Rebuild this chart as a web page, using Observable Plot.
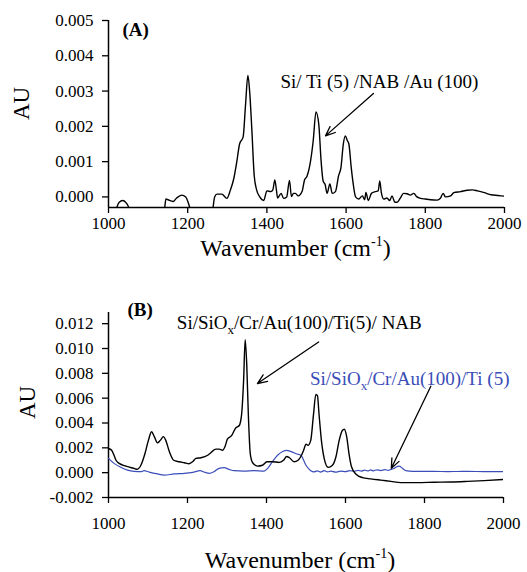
<!DOCTYPE html>
<html><head><meta charset="utf-8">
<script src="https://cdn.jsdelivr.net/npm/d3@7"></script>
<script src="https://cdn.jsdelivr.net/npm/@observablehq/plot@0.6"></script>
<style>
html,body{margin:0;padding:0;background:#fff;}
#wrap{position:relative;width:527px;height:572px;overflow:hidden;background:#fff;}
#a,#b{position:absolute;left:0;}
#a{top:0;}
#b{top:280px;}
svg text, svg tspan{font-family:"Liberation Serif", "Times New Roman", serif;}
</style></head>
<body><div id="wrap"><div id="a"></div><div id="b"></div></div>
<script>
// ---------- data ----------
const ticksX = [1000, 1200, 1400, 1600, 1800, 2000];
const ticksA = [0, 0.001, 0.002, 0.003, 0.004, 0.005];
const ticksB = [-0.002, 0, 0.002, 0.004, 0.006, 0.008, 0.010, 0.012];

// Panel A: Si/ Ti (5) /NAB /Au (100)
const waveA = [1000,1015,1021,1027,1036,1044,1051,1056,1100,1138,1142,1145,1150,1163,1172,1185,1195,1201,1205,1210,1240,1260,1264,1268,1274,1286,1299,1308,1316,1324,1331,1340,1346,1352,1357,1362,1368,1374,1382,1392,1400,1410,1415,1420,1424,1427,1436,1442,1450,1457,1462,1467,1472,1479,1489,1495,1501,1510,1517,1524,1531,1537,1542,1547,1552,1559,1565,1573,1581,1587,1593,1598,1603,1607,1613,1617,1624,1632,1641,1647,1650,1656,1664,1674,1681,1685,1689,1695,1703,1710,1716,1723,1729,1737,1745,1754,1762,1771,1779,1788,1800,1813,1830,1838,1845,1851,1864,1872,1889,1906,1919,1932,1949,1966,1983,2000];
const auA = [-0.0008,-0.0006,-0.0003,-0.00015,-0.0001,-0.00016,-0.0003,-0.0006,-0.0008,-0.0006,-0.0003,-0.00006,-0.00008,-0.00013,-0.00003,0.00005,0.0,-0.00015,-0.0003,-0.0006,-0.0008,-0.0006,-0.0003,0.0,0.00008,0.00008,-0.00004,0.0002,0.0005,0.001,0.0015,0.0017,0.0026,0.00344,0.0029,0.0019,0.0006,0.0002,0.0,-0.0001,0.00017,0.00015,0.0002,0.00048,0.0002,-0.00003,0.0001,-0.00004,0.0,0.00047,0.00001,0.0001,0.0001,0.00003,0.00016,0.00048,0.00058,0.001,0.0016,0.00241,0.00206,0.001,0.00045,0.00035,0.0001,0.00037,0.0001,0.00015,0.0006,0.00083,0.0015,0.00173,0.0016,0.0015,0.00083,0.00045,0.0,-0.00006,0.00003,-0.00008,0.00013,-0.0001,0.0001,0.00015,0.00017,0.00045,0.00012,-0.00006,-0.00003,-0.0001,0.00003,-0.00015,-0.00015,-0.00003,0.0001,0.00009,0.00005,0.0001,0.0,-0.00004,-0.00006,-0.00008,-0.00009,-0.00004,0.0001,0.0,0.00003,0.00012,0.00015,0.00019,0.0002,0.00017,0.00012,0.00006,0.00004,0.00002];

// Panel B, black: Si/SiOx/Cr/Au(100)/Ti(5)/ NAB
const waveB = [1000,1008,1014,1019,1027,1044,1058,1065,1072,1082,1092,1101,1109,1116,1124,1131,1139,1145,1154,1165,1179,1192,1204,1213,1221,1234,1251,1259,1272,1280,1289,1295,1301,1312,1322,1331,1337,1342,1346,1350,1354,1359,1365,1377,1390,1401,1415,1432,1443,1451,1458,1470,1480,1487,1494,1500,1505,1512,1519,1525,1529,1533,1539,1546,1556,1567,1576,1584,1592,1597,1603,1609,1615,1626,1643,1664,1689,1715,1740,1782,1824,1867,1909,1951,2000];
const auB = [0.00195,0.0018,0.0014,0.001,0.00075,0.00053,0.0004,0.00035,0.00027,0.0006,0.0015,0.0026,0.0033,0.0029,0.0024,0.0026,0.0029,0.0026,0.0017,0.001,0.00088,0.0008,0.00072,0.00088,0.00115,0.0012,0.0014,0.0016,0.0019,0.0019,0.0018,0.0021,0.0027,0.003,0.0036,0.0038,0.0047,0.0074,0.0107,0.0087,0.0047,0.0015,0.0008,0.00053,0.0006,0.00088,0.00088,0.00083,0.001,0.0013,0.0012,0.00088,0.001,0.0013,0.0018,0.0023,0.0022,0.0026,0.0047,0.0063,0.0062,0.0047,0.0026,0.00115,0.00043,0.0006,0.0013,0.0026,0.0034,0.0035,0.0029,0.0015,0.0005,-0.0001,-0.0004,-0.0005,-0.0006,-0.0007,-0.0008,-0.0008,-0.00077,-0.00075,-0.0007,-0.00064,-0.00055];

// Panel B, blue: Si/SiOx/Cr/Au(100)/Ti (5)
const waveC = [1000,1014,1031,1048,1065,1082,1090,1103,1124,1141,1166,1192,1213,1232,1242,1255,1268,1280,1293,1305,1318,1343,1369,1394,1403,1415,1428,1441,1451,1462,1478,1487,1500,1512,1520,1529,1537,1546,1555,1563,1575,1588,1600,1611,1622,1632,1640,1648,1656,1664,1670,1680,1689,1700,1708,1715,1722,1727,1736,1744,1753,1763,1774,1800,1824,1860,1909,1950,2000];
const auC = [0.00115,0.00075,0.00043,0.0002,0.0001,0.00008,0.00016,0.00005,-0.0001,-0.0002,-0.0001,-0.00005,0.00003,0.00016,0.00005,-0.00005,0.0001,0.00035,0.0004,0.00027,0.00016,0.00013,0.00016,0.00013,0.00035,0.00088,0.0014,0.0017,0.0018,0.0017,0.0015,0.0014,0.0006,0.00016,0.00006,0.00014,0.00005,0.00016,0.00006,0.00012,0.00004,0.00013,0.00008,0.00016,0.00011,0.00019,0.00012,0.00021,0.00014,0.00022,0.00015,0.00023,0.00017,0.00024,0.00019,0.00027,0.00033,0.00043,0.00053,0.00035,0.00016,0.00012,0.0001,0.0001,0.0001,0.00009,0.0001,0.00009,0.00008];

// labels
const titleA = "Si/ Ti (5) /NAB /Au (100)";
const titleB1 = "Si/SiOx/Cr/Au(100)/Ti(5)/ NAB";
const titleB2 = "Si/SiOx/Cr/Au(100)/Ti (5)";
const xTitle = "Wavenumber (cm-1)";
const yTitle = "AU";

// annotation anchors (data units)
const noteA = [{t: titleA, w: 1684, v: 0.00327}];
const arrowA = [{w1: 1669, v1: 0.00293, w2: 1548, v2: 0.00173}];
const noteB1 = [{t: titleB1, w: 1173, v: 0.01206}];
const noteB2 = [{t: titleB2, w: 1510, v: 0.00758}];
const arrowB = [
  {w1: 1532, v1: 0.01052, w2: 1377, v2: 0.00718},
  {w1: 1816, v1: 0.00696, w2: 1716, v2: 0.00035}
];

// ---------- drawing ----------
const serif = "Liberation Serif, Times New Roman, serif";
const blue = "#3b4db8";
const fmt = d => d.toFixed(3);
const dataA = waveA.map((w, i) => ({w, v: auA[i]}));
const dataB = waveB.map((w, i) => ({w, v: auB[i]}));
const dataC = waveC.map((w, i) => ({w, v: auC[i]}));

function fixTexts(svg) {
  d3.select(svg).attr("font-family", serif);
  d3.select(svg).selectAll("text").each(function () {
    const t = this.textContent;
    const s = d3.select(this);
    s.attr("font-family", serif);
    if (t === xTitle) {
      s.text(null);
      s.append("tspan").text("Wavenumber (cm");
      s.append("tspan").attr("font-size", "14px").attr("dy", "-10").text("-1");
      s.append("tspan").attr("dy", "10").text(")");
    } else if (t.includes("SiOx")) {
      const [p, q] = t.split("SiOx");
      s.text(null);
      s.append("tspan").text(p + "SiO");
      s.append("tspan").attr("font-size", "13px").attr("dy", "5").text("x");
      s.append("tspan").attr("dy", "-5").text(q);
    }
  });
  return svg;
}

const plotA = Plot.plot({
  width: 527, height: 265,
  marginLeft: 108, marginRight: 23, marginTop: 20, marginBottom: 58,
  style: {fontFamily: serif, fontSize: "17px", background: "#fff", color: "#000", overflow: "visible"},
  x: {domain: [1000, 2000]},
  y: {domain: [-0.0003, 0.005]},
  marks: [
    Plot.axisX({ticks: ticksX, tickFormat: d => String(d), tickSize: 6, tickPadding: 3, label: null, strokeWidth: 1.3}),
    Plot.axisY({ticks: ticksA, tickFormat: fmt, tickSize: 6, tickPadding: 9, label: null, strokeWidth: 1.3}),
    Plot.ruleX([1000], {strokeWidth: 1.5}),
    Plot.ruleY([-0.0003], {strokeWidth: 1.5}),
    Plot.line(dataA, {x: "w", y: "v", stroke: "#000", strokeWidth: 1.4, curve: "monotone-x", clip: true}),
    Plot.text(noteA, {x: "w", y: "v", text: "t", fontSize: 19, textAnchor: "middle", lineAnchor: "middle"}),
    Plot.arrow(arrowA, {x1: "w1", y1: "v1", x2: "w2", y2: "v2", stroke: "#000", strokeWidth: 1.3, headLength: 12, headAngle: 45}),
    Plot.text(["(A)"], {frameAnchor: "top-left", dx: 14, dy: 9, fontSize: 19, fontWeight: "bold", textAnchor: "start", lineAnchor: "middle"}),
    Plot.text([yTitle], {frameAnchor: "left", rotate: -90, dx: -87, dy: -10.5, fontSize: 23, textAnchor: "middle", lineAnchor: "middle"}),
    Plot.text([xTitle], {frameAnchor: "bottom", dx: -11, dy: 40.5, fontSize: 24, textAnchor: "middle", lineAnchor: "middle"})
  ]
});
document.getElementById("a").appendChild(fixTexts(plotA));

const plotB = Plot.plot({
  width: 527, height: 292,
  marginLeft: 108, marginRight: 24, marginTop: 32, marginBottom: 75,
  style: {fontFamily: serif, fontSize: "17px", background: "#fff", color: "#000", overflow: "visible"},
  x: {domain: [1000, 2000]},
  y: {domain: [-0.002, 0.0129]},
  marks: [
    Plot.axisX({ticks: ticksX, tickFormat: d => String(d), tickSize: 6, tickPadding: 13, label: null, strokeWidth: 1.3}),
    Plot.axisY({ticks: ticksB, tickFormat: fmt, tickSize: 6, tickPadding: 9, label: null, strokeWidth: 1.3}),
    Plot.ruleX([1000], {strokeWidth: 1.5}),
    Plot.ruleY([-0.002], {strokeWidth: 1.5}),
    Plot.line(dataC, {x: "w", y: "v", stroke: blue, strokeWidth: 1.2, curve: "monotone-x", clip: true}),
    Plot.line(dataB, {x: "w", y: "v", stroke: "#000", strokeWidth: 1.4, curve: "monotone-x", clip: true}),
    Plot.text(noteB1, {x: "w", y: "v", text: "t", fontSize: 19, textAnchor: "start", lineAnchor: "middle"}),
    Plot.text(noteB2, {x: "w", y: "v", text: "t", fontSize: 19, textAnchor: "start", lineAnchor: "middle", fill: blue}),
    Plot.arrow(arrowB, {x1: "w1", y1: "v1", x2: "w2", y2: "v2", stroke: "#000", strokeWidth: 1.3, headLength: 12, headAngle: 45}),
    Plot.text(["(B)"], {frameAnchor: "top-left", dx: 19, dy: -3, fontSize: 19, fontWeight: "bold", textAnchor: "start", lineAnchor: "middle"}),
    Plot.text([yTitle], {frameAnchor: "left", rotate: -90, dx: -81, dy: -2.5, fontSize: 23, textAnchor: "middle", lineAnchor: "middle"}),
    Plot.text([xTitle], {frameAnchor: "bottom", dx: -6, dy: 63, fontSize: 24, textAnchor: "middle", lineAnchor: "middle"})
  ]
});
document.getElementById("b").appendChild(fixTexts(plotB));
</script>
</body></html>
